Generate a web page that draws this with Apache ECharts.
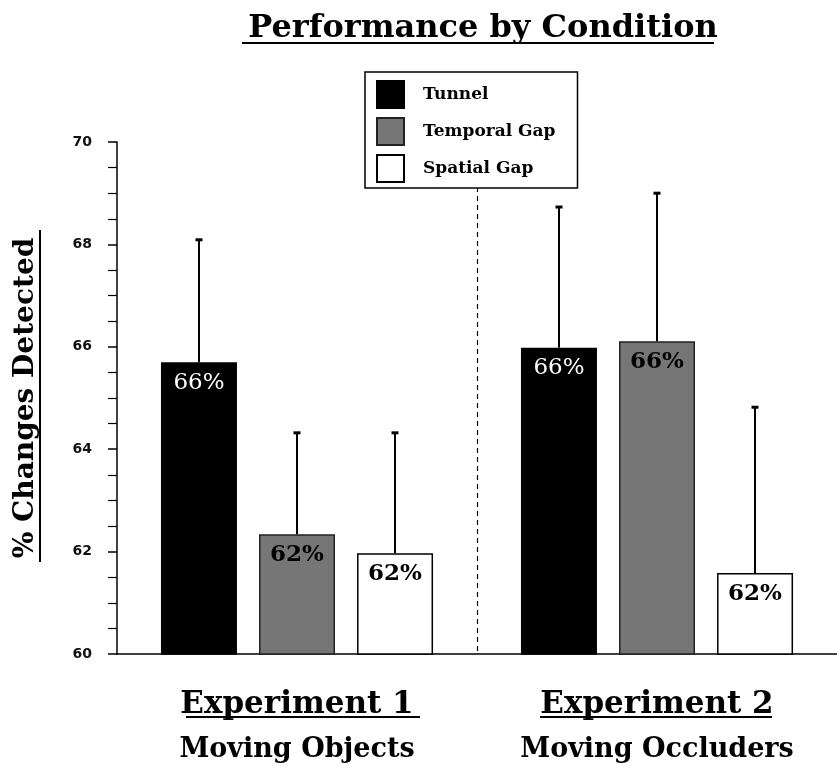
<!DOCTYPE html>
<html>
<head>
    <meta charset="utf-8">
    <title>Performance by Condition</title>
    <script src="https://cdn.jsdelivr.net/npm/echarts@6/dist/echarts.min.js"></script>
    <style>
        html, body { margin: 0; padding: 0; background: #fff; }
        #chart { width: 837px; height: 769px; }
    </style>
</head>
<body>
<div id="chart"></div>
<script type="text/javascript">
    // 数据
    var categories = ['Experiment 1', 'Experiment 2'];
    var subtitles = ['Moving Objects', 'Moving Occluders'];
    var tunnel = [65.70, 65.98];
    var tunnelErr = [2.39, 2.75];
    var temporal = [62.34, 66.11];
    var temporalErr = [1.98, 2.89];
    var spatial = [61.97, 61.58];
    var spatialErr = [2.35, 3.24];

    var serif = '"DejaVu Serif", "Liberation Serif", serif';
    var barW = 76, barGap = 22;

    function errData(vals, errs) {
        return vals.map(function (v, i) { return [i, v, errs[i]]; });
    }

    // 误差线 (只画上半部分)
    function errSeries(name, idx, vals, errs) {
        return {
            name: name + ' err',
            type: 'custom',
            z: 3,
            data: errData(vals, errs),
            renderItem: function (params, api) {
                var base = api.coord([api.value(0), api.value(1)]);
                var top = api.coord([api.value(0), api.value(1) + api.value(2)]);
                var x = base[0] + (idx - 1) * (barW + barGap);
                return {
                    type: 'group',
                    children: [
                        {type: 'line', shape: {x1: x, y1: base[1], x2: x, y2: top[1]}, style: {stroke: '#000', lineWidth: 2}},
                        {type: 'line', shape: {x1: x - 3.5, y1: top[1], x2: x + 3.5, y2: top[1]}, style: {stroke: '#000', lineWidth: 3}}
                    ]
                };
            }
        };
    }

    function barLabel(color, weight) {
        return {
            show: true,
            position: 'insideTop',
            distance: 9,
            color: color,
            fontFamily: serif,
            fontSize: 23,
            fontWeight: weight,
            formatter: function (p) { return Math.round(p.value) + '%'; }
        };
    }

    var myChart = echarts.init(document.getElementById('chart'));
    var option = {
        backgroundColor: '#fff',
        animation: false,
        title: {
            text: 'Performance by Condition',
            left: 478,
            textAlign: 'center',
            top: 8,
            textStyle: {fontFamily: serif, fontSize: 32, fontWeight: 'bold', color: '#000'}
        },
        legend: {
            orient: 'vertical',
            left: 365,
            top: 72,
            z: 5,
            padding: [8, 22, 5, 11],
            itemGap: 8,
            itemWidth: 27,
            itemHeight: 27,
            icon: 'rect',
            backgroundColor: '#fff',
            borderColor: '#000',
            borderWidth: 1.5,
            data: ['Tunnel', 'Temporal Gap', 'Spatial Gap'],
            textStyle: {fontFamily: serif, fontSize: 17, fontWeight: 'bold', color: '#000', padding: [0, 0, 0, 14]}
        },
        grid: {left: 117, right: -3, top: 142, bottom: 115},
        xAxis: {
            type: 'category',
            data: categories,
            axisLine: {lineStyle: {color: '#000', width: 1.5}},
            axisTick: {show: false},
            splitLine: {show: false},
            axisLabel: {
                margin: 28,
                formatter: function (v, i) { return '{a|' + v + '}\n{b|' + subtitles[i] + '}'; },
                rich: {
                    a: {fontFamily: serif, fontSize: 31, fontWeight: 'bold', color: '#000', lineHeight: 46},
                    b: {fontFamily: serif, fontSize: 27, fontWeight: 'bold', color: '#000', lineHeight: 44}
                }
            }
        },
        yAxis: {
            type: 'value',
            min: 60,
            max: 70,
            interval: 2,
            name: '% Changes Detected',
            nameLocation: 'middle',
            nameRotate: 90,
            nameGap: 77,
            nameTextStyle: {fontFamily: serif, fontSize: 28, fontWeight: 'bold', color: '#000'},
            axisLine: {show: true, lineStyle: {color: '#000', width: 1.5}},
            axisTick: {show: true, length: 9, lineStyle: {color: '#000', width: 1.5}},
            minorTick: {show: true, splitNumber: 4, length: 9, lineStyle: {color: '#000', width: 1.2}},
            splitLine: {show: false},
            axisLabel: {fontFamily: '"DejaVu Sans", sans-serif', fontSize: 14, fontWeight: 'bold', color: '#111', margin: 25}
        },
        series: [
            {
                name: 'Tunnel', type: 'bar', data: tunnel, barWidth: barW, barGap: '29%',
                itemStyle: {color: '#000', borderColor: '#000', borderWidth: 1.5},
                label: barLabel('#fff', 'normal')
            },
            {
                name: 'Temporal Gap', type: 'bar', data: temporal, barWidth: barW,
                itemStyle: {color: '#767676', borderColor: '#222', borderWidth: 1.5},
                label: barLabel('#000', 'bold')
            },
            {
                name: 'Spatial Gap', type: 'bar', data: spatial, barWidth: barW,
                itemStyle: {color: '#fff', borderColor: '#000', borderWidth: 1.5},
                label: barLabel('#000', 'bold')
            },
            errSeries('Tunnel', 0, tunnel, tunnelErr),
            errSeries('Temporal Gap', 1, temporal, temporalErr),
            errSeries('Spatial Gap', 2, spatial, spatialErr)
        ]
    };
    myChart.setOption(option);

    // 两组之间的虚线 + 下划线
    var x0 = myChart.convertToPixel({xAxisIndex: 0}, 0);
    var x1 = myChart.convertToPixel({xAxisIndex: 0}, 1);
    var midX = Math.round((x0 + x1) / 2) + 0.5;
    var yTop = myChart.convertToPixel({yAxisIndex: 0}, 70);
    var yBot = myChart.convertToPixel({yAxisIndex: 0}, 60);
    myChart.setOption({
        graphic: [
            {type: 'line', z: 1, shape: {x1: midX, y1: yTop, x2: midX, y2: yBot}, style: {stroke: '#000', lineWidth: 1.2, lineDash: [5, 4]}},
            {type: 'line', shape: {x1: 242, y1: 43, x2: 714, y2: 43}, style: {stroke: '#000', lineWidth: 2}},
            {type: 'line', shape: {x1: 186, y1: 717, x2: 420, y2: 717}, style: {stroke: '#000', lineWidth: 2}},
            {type: 'line', shape: {x1: 540, y1: 717, x2: 772, y2: 717}, style: {stroke: '#000', lineWidth: 2}},
            {type: 'line', shape: {x1: 40, y1: 230, x2: 40, y2: 562}, style: {stroke: '#000', lineWidth: 2}}
        ]
    });
</script>
</body>
</html>
